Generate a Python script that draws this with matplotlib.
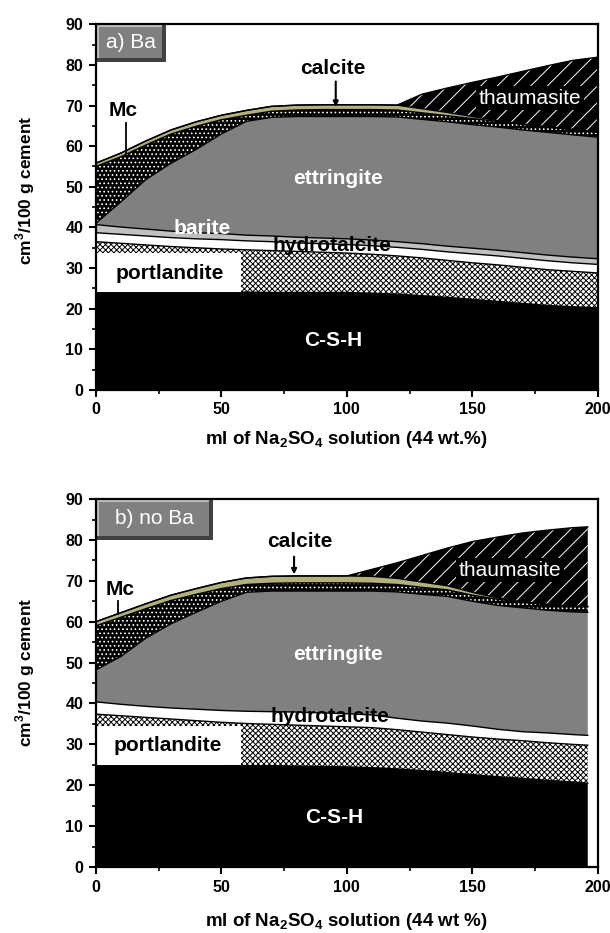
import numpy as np
import matplotlib
matplotlib.use("Agg")
import matplotlib.pyplot as plt
from matplotlib.patches import Rectangle

plt.rcParams['font.family'] = ['Liberation Sans', 'DejaVu Sans']
plt.rcParams['mathtext.fontset'] = 'custom'
plt.rcParams['mathtext.rm'] = 'Liberation Sans'
plt.rcParams['mathtext.bf'] = 'Liberation Sans:bold'
plt.rcParams['hatch.linewidth'] = 0.7

# ---------------- data: panel a) Ba  (volumes, cm3/100 g cement) ----------------
x_a = [0, 10, 20, 30, 40, 50, 60, 70, 80, 90, 100, 110, 120, 130, 140, 150, 160, 170, 180, 190, 200]
csh_a = [24.1, 24.1, 24.1, 24.1, 24.1, 24.1, 24.1, 24.0, 24.0, 24.0, 24.0, 23.8, 23.6, 23.2, 22.8, 22.3, 21.8, 21.3, 20.8, 20.5, 20.2]
portlandite_a = [12.4, 12.0, 11.6, 11.2, 10.9, 10.6, 10.4, 10.3, 10.1, 9.9, 9.7, 9.6, 9.4, 9.3, 9.1, 9.0, 9.0, 8.9, 8.8, 8.7, 8.6]
hydrotalcite_a = [2.2, 2.2, 2.2, 2.2, 2.2, 2.3, 2.2, 2.2, 2.1, 2.1, 2.1, 2.1, 2.1, 2.1, 2.1, 2.2, 2.2, 2.2, 2.2, 2.1, 2.1]
barite_a = [2.0, 1.8, 1.7, 1.6, 1.5, 1.5, 1.4, 1.4, 1.4, 1.4, 1.4, 1.4, 1.4, 1.4, 1.4, 1.4, 1.4, 1.4, 1.4, 1.4, 1.4]
ettringite_a = [0.3, 6.2, 12.2, 16.7, 20.5, 24.5, 28.0, 29.2, 29.7, 29.9, 30.1, 30.4, 30.7, 30.6, 30.6, 30.4, 30.3, 30.2, 30.2, 30.1, 29.9]
mc_a = [14.0, 11.1, 8.5, 7.2, 5.7, 3.5, 1.5, 1.5, 1.6, 1.7, 1.7, 1.7, 1.7, 1.6, 1.5, 1.5, 1.4, 1.4, 1.3, 1.3, 1.3]
calcite_a = [0.8, 0.9, 1.0, 1.0, 1.1, 1.1, 1.2, 1.2, 1.2, 1.2, 1.2, 1.2, 1.2, 1.0, 0.8, 0.5, 0.2, 0.0, 0.0, 0.0, 0.0]
thaumasite_a = [0, 0, 0, 0, 0, 0, 0, 0, 0, 0, 0, 0, 0, 3.6, 6.0, 8.4, 10.7, 13.0, 15.1, 17.0, 18.4]

# ---------------- data: panel b) no Ba ----------------
x_b = [0, 10, 20, 30, 40, 50, 60, 70, 80, 90, 100, 110, 120, 130, 140, 150, 160, 170, 180, 190, 196]
csh_b = [24.9, 24.9, 24.9, 24.9, 24.9, 24.9, 24.8, 24.8, 24.7, 24.6, 24.5, 24.3, 24.0, 23.6, 23.1, 22.6, 22.1, 21.7, 21.2, 20.8, 20.5]
portlandite_b = [12.5, 12.1, 11.7, 11.3, 10.9, 10.5, 10.3, 10.1, 10.0, 9.9, 9.8, 9.8, 9.6, 9.4, 9.3, 9.2, 9.2, 9.2, 9.2, 9.2, 9.3]
hydrotalcite_b = [3.0, 2.8, 2.7, 2.7, 2.8, 2.9, 3.0, 3.1, 3.2, 3.2, 3.2, 3.1, 2.8, 2.7, 2.8, 2.7, 2.4, 2.2, 2.4, 2.4, 2.4]
ettringite_b = [7.8, 11.7, 16.7, 20.6, 23.7, 26.7, 29.1, 29.5, 29.6, 29.8, 30.0, 30.3, 30.9, 31.0, 31.0, 30.5, 30.3, 30.3, 30.0, 30.0, 30.1]
mc_b = [10.8, 9.6, 7.2, 5.7, 4.4, 3.1, 1.9, 1.9, 2.0, 2.0, 2.0, 1.9, 1.8, 1.7, 1.6, 1.5, 1.5, 1.4, 1.4, 1.4, 1.4]
calcite_b = [1.0, 1.1, 1.2, 1.3, 1.4, 1.5, 1.6, 1.7, 1.7, 1.7, 1.7, 1.7, 1.5, 1.3, 1.0, 0.7, 0.3, 0.0, 0.0, 0.0, 0.0]
thaumasite_b = [0, 0, 0, 0, 0, 0, 0, 0, 0, 0, 0, 1.7, 3.8, 6.5, 9.2, 12.4, 14.9, 16.9, 18.2, 19.2, 19.5]

x_ticks = [0, 50, 100, 150, 200]
y_ticks = [0, 10, 20, 30, 40, 50, 60, 70, 80, 90]

# ---------------- styles ----------------
STYLE = {
    'C-S-H':        dict(fc='black', hatch=None, hc='none'),
    'portlandite':  dict(fc='white', hatch='xxxxxx', hc='black'),
    'hydrotalcite': dict(fc='white', hatch=None, hc='none'),
    'barite':       dict(fc='#c0c0c0', hatch=None, hc='none'),
    'ettringite':   dict(fc='#808080', hatch=None, hc='none'),
    'Mc':           dict(fc='black', hatch='....', hc='white'),
    'calcite':      dict(fc='#b2b07c', hatch=None, hc='none'),
    'thaumasite':   dict(fc='black', hatch='//', hc='white'),
}

LABEL_SIZE = 15

fig = plt.figure(figsize=(6.1, 9.33), dpi=100)
ax_a = fig.add_axes([0.157, 0.582, 0.823, 0.392])
ax_b = fig.add_axes([0.157, 0.0707, 0.823, 0.3944])


def draw_stack(ax, x, layers):
    x = np.asarray(x, dtype=float)
    base = np.zeros(len(x))
    for name, vals in layers:
        top = base + np.asarray(vals, dtype=float)
        st = STYLE[name]
        ax.fill_between(x, base, top, facecolor=st['fc'], edgecolor=st['hc'],
                        hatch=st['hatch'], linewidth=0, zorder=1)
        base = top
    base = np.zeros(len(x))
    for name, vals in layers:
        base = base + np.asarray(vals, dtype=float)
        ax.plot(x, base, color='black', lw=1.0, zorder=2)


def style_axes(ax, xlabel, ylabel_y, xlabelpad):
    ax.set_xlim(0, 200)
    ax.set_ylim(0, 90)
    ax.set_xticks(x_ticks)
    ax.set_yticks(y_ticks)
    ax.set_xticks([25, 75, 125, 175], minor=True)
    ax.set_yticks([5, 15, 25, 35, 45, 55, 65, 75, 85], minor=True)
    ax.tick_params(which='major', direction='out', length=5, width=1.5,
                   labelsize=11.5, pad=4)
    ax.tick_params(which='minor', direction='out', length=3, width=1.2)
    for lab in ax.get_xticklabels() + ax.get_yticklabels():
        lab.set_fontweight('bold')
    for s in ax.spines.values():
        s.set_linewidth(1.6)
        s.set_zorder(10)
    ax.set_xlabel(xlabel, fontsize=13.5, fontweight='bold', labelpad=xlabelpad)
    ax.set_ylabel(r'cm$^{\mathbf{3}}$/100 g cement', fontsize=12.5, fontweight='bold')
    ax.yaxis.set_label_coords(-0.118, ylabel_y)


def title_box(ax, x1, y0, text):
    # bevelled grey label box in the top-left corner
    ax.add_patch(Rectangle((0, y0), x1, 90 - y0, facecolor='#404040', edgecolor='none', zorder=5))
    ax.add_patch(Rectangle((0, y0 + 1.0), x1 - 1.6, 90 - y0 - 1.0, facecolor='#c0c0c0', edgecolor='none', zorder=5))
    ax.add_patch(Rectangle((1.4, y0 + 1.0), x1 - 3.0, 90 - y0 - 1.6, facecolor='#808080', edgecolor='none', zorder=5))
    ax.text((x1 - 1.6) / 2 + 0.7, (90 + y0) / 2 + 0.2, text, color='white', fontsize=15,
            ha='center', va='center', zorder=6)


def labels(ax, lab):
    for txt, (xx, yy), col, fw in lab:
        ax.text(xx, yy, txt, color=col, fontsize=LABEL_SIZE, fontweight=fw, ha='center', va='center', zorder=7)


# ---------------- panel a ----------------
draw_stack(ax_a, x_a, [('C-S-H', csh_a), ('portlandite', portlandite_a), ('hydrotalcite', hydrotalcite_a),
                       ('barite', barite_a), ('ettringite', ettringite_a), ('Mc', mc_a),
                       ('calcite', calcite_a), ('thaumasite', thaumasite_a)])
ax_a.add_patch(Rectangle((0, 24.1), 58, 9.6, facecolor='white', edgecolor='none', zorder=3))
title_box(ax_a, 28, 80.6, 'a) Ba')
labels(ax_a, [('C-S-H', (94.6, 12.3), 'white', 'bold'),
              ('portlandite', (29.4, 28.6), 'black', 'bold'),
              ('hydrotalcite', (94.2, 35.6), 'black', 'bold'),
              ('barite', (42.4, 39.8), 'white', 'bold'),
              ('ettringite', (96.6, 52.1), 'white', 'bold'),
              ('calcite', (94.4, 79.0), 'black', 'bold'),
              ('Mc', (10.8, 68.8), 'black', 'bold')])
ax_a.text(173, 71.8, 'thaumasite', color='white', fontsize=LABEL_SIZE, ha='center', va='center', zorder=7,
          bbox=dict(facecolor='black', edgecolor='none', pad=2))
ax_a.annotate('', xy=(95.6, 69.0), xytext=(95.6, 76.6),
              arrowprops=dict(arrowstyle='-|>,head_width=0.15,head_length=0.3', color='black', lw=1.5), zorder=7)
ax_a.plot([12, 12], [65.6, 58.3], color='black', lw=1.3, zorder=7)
style_axes(ax_a, r'ml of Na$_{\mathbf{2}}$SO$_{\mathbf{4}}$ solution (44 wt.%)', 0.546, 8)

# ---------------- panel b ----------------
draw_stack(ax_b, x_b, [('C-S-H', csh_b), ('portlandite', portlandite_b), ('hydrotalcite', hydrotalcite_b),
                       ('ettringite', ettringite_b), ('Mc', mc_b),
                       ('calcite', calcite_b), ('thaumasite', thaumasite_b)])
ax_b.add_patch(Rectangle((0, 24.9), 58, 9.6, facecolor='white', edgecolor='none', zorder=3))
title_box(ax_b, 46.7, 80.0, 'b) no Ba')
labels(ax_b, [('C-S-H', (95.0, 12.2), 'white', 'bold'),
              ('portlandite', (28.8, 29.8), 'black', 'bold'),
              ('hydrotalcite', (93.4, 36.7), 'black', 'bold'),
              ('ettringite', (96.6, 52.1), 'white', 'bold'),
              ('calcite', (81.3, 79.5), 'black', 'bold'),
              ('Mc', (9.6, 67.8), 'black', 'bold')])
ax_b.text(165, 72.6, 'thaumasite', color='white', fontsize=LABEL_SIZE, ha='center', va='center', zorder=7,
          bbox=dict(facecolor='black', edgecolor='none', pad=2))
ax_b.annotate('', xy=(79, 70.9), xytext=(79, 76.6),
              arrowprops=dict(arrowstyle='-|>,head_width=0.15,head_length=0.3', color='black', lw=1.5), zorder=7)
ax_b.plot([8.8, 8.8], [65.0, 62.0], color='black', lw=1.3, zorder=7)
style_axes(ax_b, r'ml of Na$_{\mathbf{2}}$SO$_{\mathbf{4}}$ solution (44 wt %)', 0.53, 12)

fig.savefig('out.png', dpi=100)
